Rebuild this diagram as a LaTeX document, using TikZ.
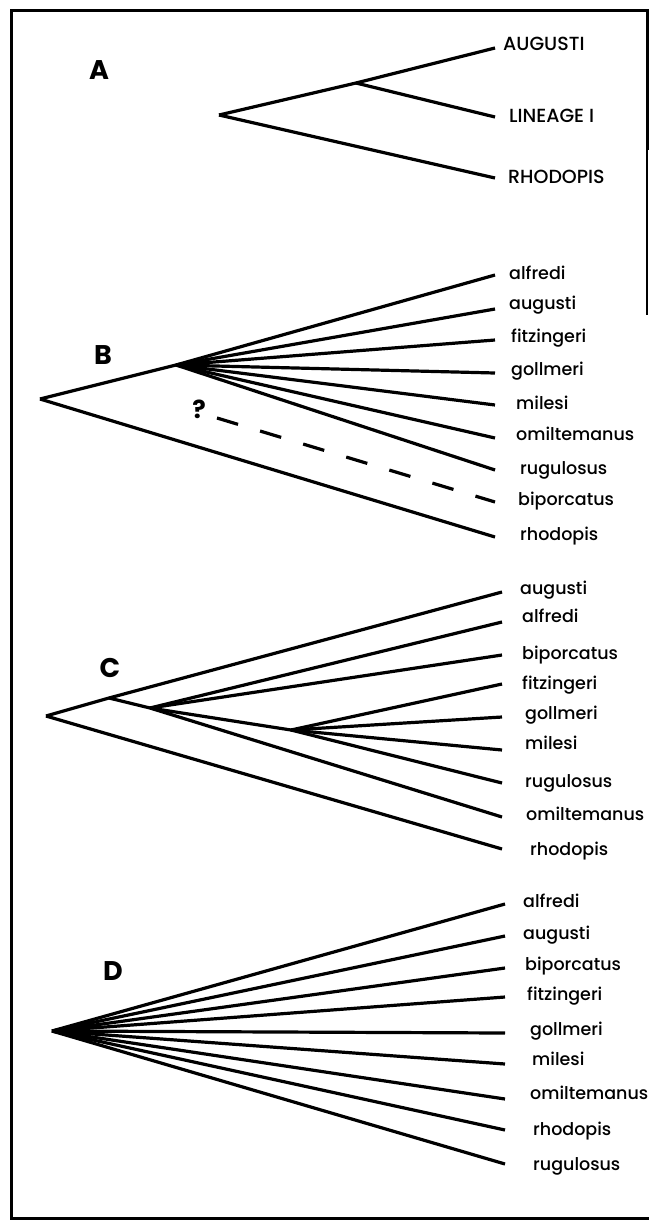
\documentclass[tikz,border=0pt]{standalone}
\usepackage{fontspec}
\setmainfont{Poppins}
\newfontfamily\taxfont{Poppins Medium}
\usepackage{tikz}
\usetikzlibrary{positioning, calc}

\begin{document}
\begin{tikzpicture}[
  x=1pt, y=-1pt,
  branch/.style={line width=3.2pt, line join=miter},
  guess/.style={branch, dash pattern=on 22pt off 23pt},
  taxon/.style={anchor=mid west, inner sep=0pt, font=\taxfont\fontsize{17.5}{17.5}\selectfont},
  lineage/.style={taxon, font=\taxfont\fontsize{19}{19}\selectfont},
  panel/.style={inner sep=0pt, font=\fontsize{27}{27}\selectfont\bfseries},
  frame/.style={line width=3pt}
]
  \useasboundingbox (0,0) rectangle (649,1224);

  % frame
  \coordinate (ftr) at (647,10);
  \coordinate (ftl) at (11,10);
  \coordinate (fbl) at (11,1218);
  \coordinate (fbr) at (649,1218);
  \coordinate (frm) at (647,150);
  \coordinate (frb) at (647,315);
  \draw[frame] (frm) -- (ftr) -- (ftl) -- (fbl) -- (fbr);
  \draw[line width=1.2pt] (frm) -- (frb);

  % A: three lineages
  \node[panel] (lA) at (99,70) {A};
  \coordinate (a0) at (219,115);
  \coordinate (a1) at (356,83);
  \coordinate (ta1) at (495,48);
  \coordinate (ta2) at (495,117);
  \coordinate (ta3) at (495,178);
  \node[lineage] (na1) at (503,48) {AUGUSTI};
  \node[lineage] (na2) at (509,120) {LINEAGE I};
  \node[lineage] (na3) at (508,181) {RHODOPIS};
  \draw[branch] (a0) -- (a1) -- (ta1);
  \draw[branch] (a1) -- (ta2);
  \draw[branch] (a0) -- (ta3);

  % B: polytomy, biporcatus uncertain
  \node[panel] (lB) at (103,355) {B};
  \coordinate (b0) at (40,399);
  \coordinate (b1) at (176,365);
  \coordinate (tb1) at (495,275);
  \coordinate (tb2) at (495,309);
  \coordinate (tb3) at (495,340);
  \coordinate (tb4) at (495,373);
  \coordinate (tb5) at (495,405);
  \coordinate (tb6) at (495,438);
  \coordinate (tb7) at (495,470);
  \coordinate (tb8) at (495,502);
  \coordinate (tb9) at (495,537);
  \node[taxon] (nb1) at (509,277) {alfredi};
  \node[taxon] (nb2) at (509,307) {augusti};
  \node[taxon] (nb3) at (511,340) {fitzingeri};
  \node[taxon] (nb4) at (511,373) {gollmeri};
  \node[taxon] (nb5) at (516,407) {milesi};
  \node[taxon] (nb6) at (516,438) {omiltemanus};
  \node[taxon] (nb7) at (520,472) {rugulosus};
  \node[taxon] (nb8) at (518,503) {biporcatus};
  \node[taxon] (nb9) at (520,538) {rhodopis};
  \node[panel, font=\fontsize{25}{25}\selectfont\bfseries] (qb) at (199,409) {?};
  \coordinate (bq) at (217,418);
  \draw[branch] (b0) -- (b1) -- (tb1);
  \draw[branch] (b1) -- (tb2);
  \draw[branch] (b1) -- (tb3);
  \draw[branch] (b1) -- (tb4);
  \draw[branch] (b1) -- (tb5);
  \draw[branch] (b1) -- (tb6);
  \draw[branch] (b1) -- (tb7);
  \draw[guess] (bq) -- (tb8);
  \draw[branch] (b0) -- (tb9);

  % C: resolved groups
  \node[panel] (lC) at (110,668) {C};
  \coordinate (c0) at (46,716);
  \coordinate (c1) at (109,698);
  \coordinate (c2) at (150,708);
  \coordinate (c3) at (291,730);
  \coordinate (tc1) at (502,592);
  \coordinate (tc2) at (502,622);
  \coordinate (tc3) at (502,655);
  \coordinate (tc4) at (502,684);
  \coordinate (tc5) at (502,717);
  \coordinate (tc6) at (502,750);
  \coordinate (tc7) at (502,783);
  \coordinate (tc8) at (502,817);
  \coordinate (tc9) at (502,849);
  \node[taxon] (nc1) at (520,592) {augusti};
  \node[taxon] (nc2) at (522,620) {alfredi};
  \node[taxon] (nc3) at (522,657) {biporcatus};
  \node[taxon] (nc4) at (522,687) {fitzingeri};
  \node[taxon] (nc5) at (525,717) {gollmeri};
  \node[taxon] (nc6) at (525,747) {milesi};
  \node[taxon] (nc7) at (525,785) {rugulosus};
  \node[taxon] (nc8) at (526,818) {omiltemanus};
  \node[taxon] (nc9) at (530,853) {rhodopis};
  \draw[branch] (c0) -- (c1) -- (tc1);
  \draw[branch] (c1) -- (c2) -- (tc8);
  \draw[branch] (c2) -- (tc2);
  \draw[branch] (c2) -- (tc3);
  \draw[branch] (c2) -- (c3);
  \draw[branch] (c3) -- (tc4);
  \draw[branch] (c3) -- (tc5);
  \draw[branch] (c3) -- (tc6);
  \draw[branch] (c3) -- (tc7);
  \draw[branch] (c0) -- (tc9);

  % D: unresolved
  \node[panel] (lD) at (113,971) {D};
  \coordinate (d0) at (52,1031);
  \coordinate (td1) at (505,904);
  \coordinate (td2) at (505,936);
  \coordinate (td3) at (505,968);
  \coordinate (td4) at (505,997);
  \coordinate (td5) at (505,1033);
  \coordinate (td6) at (505,1064);
  \coordinate (td7) at (505,1099);
  \coordinate (td8) at (505,1130);
  \coordinate (td9) at (505,1164);
  \node[taxon] (nd1) at (523,905) {alfredi};
  \node[taxon] (nd2) at (523,937) {augusti};
  \node[taxon] (nd3) at (525,968) {biporcatus};
  \node[taxon] (nd4) at (527,998) {fitzingeri};
  \node[taxon] (nd5) at (530,1033) {gollmeri};
  \node[taxon] (nd6) at (532,1063) {milesi};
  \node[taxon] (nd7) at (530,1097) {omiltemanus};
  \node[taxon] (nd8) at (533,1133) {rhodopis};
  \node[taxon] (nd9) at (533,1168) {rugulosus};
  \draw[branch] (d0) -- (td1);
  \draw[branch] (d0) -- (td2);
  \draw[branch] (d0) -- (td3);
  \draw[branch] (d0) -- (td4);
  \draw[branch] (d0) -- (td5);
  \draw[branch] (d0) -- (td6);
  \draw[branch] (d0) -- (td7);
  \draw[branch] (d0) -- (td8);
  \draw[branch] (d0) -- (td9);
\end{tikzpicture}
\end{document}
